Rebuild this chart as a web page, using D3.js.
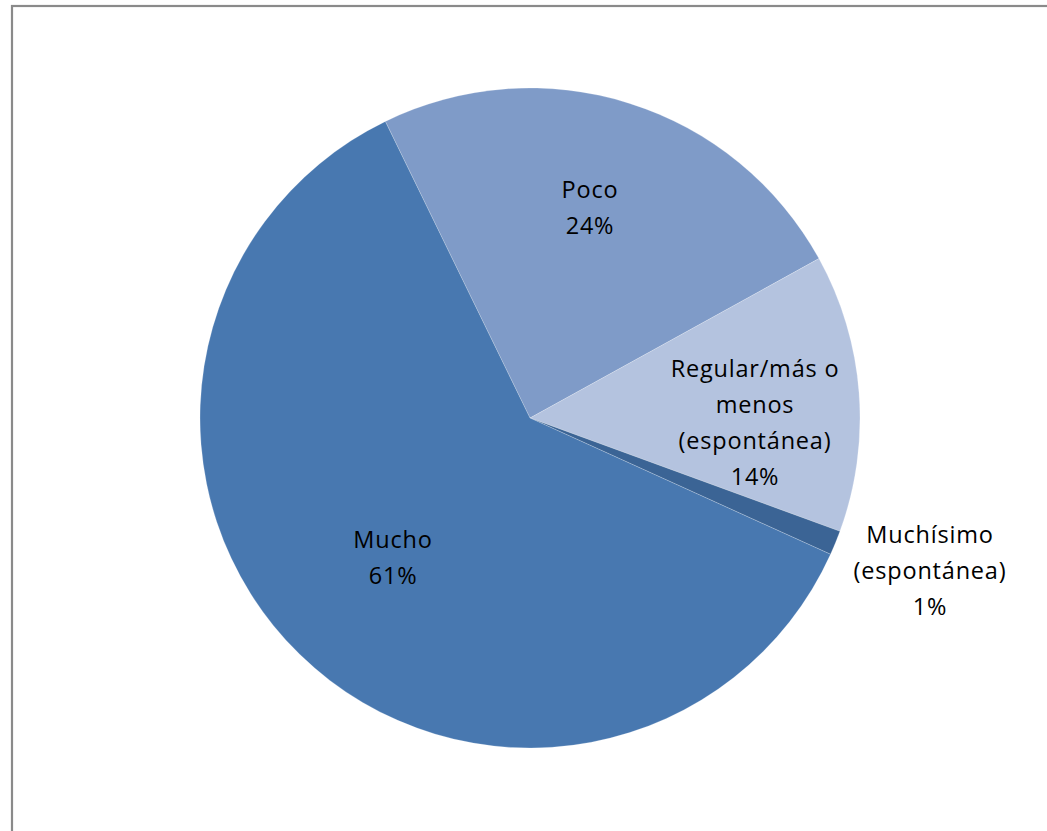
<!DOCTYPE html>
<html><head><meta charset="utf-8">
<script src="https://cdn.jsdelivr.net/npm/d3@7"></script>
<style>body{margin:0;background:#fff}svg{display:block}</style>
</head><body>
<svg id="c" width="1047" height="831"></svg>
<script>
const categories = ["Poco", "Regular/más o menos (espontánea)", "Muchísimo (espontánea)", "Mucho"];
const values = [24.2, 13.6, 1.2, 61.0];
const pctLabels = ["24%", "14%", "1%", "61%"];
const labelLines = [["Poco"], ["Regular/más o", "menos", "(espontánea)"], ["Muchísimo", "(espontánea)"], ["Mucho"]];
const colors = ["#7f9bc8", "#b4c3df", "#3b6495", "#4878b0"];

const svg = d3.select("#c");
svg.append("rect").attr("x", 12).attr("y", 6).attr("width", 1100).attr("height", 900)
  .attr("fill", "#fff").attr("stroke", "#8a8a8a").attr("stroke-width", 2.2);

const cx = 530, cy = 418, R = 330;
const deg = Math.PI / 180;
const pie = d3.pie().sort(null).value(d => d).startAngle(-26 * deg).endAngle(334 * deg);
const arcs = pie(values);
const arc = d3.arc().innerRadius(0).outerRadius(R);
const g = svg.append("g").attr("transform", `translate(${cx},${cy})`);
g.selectAll("path").data(arcs).join("path")
  .attr("d", arc).attr("fill", (d, i) => colors[i])
  .attr("stroke", "rgba(255,255,255,0.35)").attr("stroke-width", 0.6);

const labelPos = [[60, -210], [225, 5], [400, 153], [-137, 140]];
const lineH = 36;
arcs.forEach((d, i) => {
  const lines = labelLines[i].concat([pctLabels[i]]);
  const [x, y] = labelPos[i];
  const t = g.append("text").attr("text-anchor", "middle")
    .attr("font-family", "'Open Sans', 'Liberation Sans', sans-serif")
    .attr("font-size", 23.5).attr("letter-spacing", 0.8).attr("fill", "#000");
  const y0 = y - (lines.length - 1) * lineH / 2;
  lines.forEach((s, k) => {
    t.append("tspan").attr("x", x).attr("y", y0 + k * lineH).attr("dy", "0.35em").text(s);
  });
});
</script>
</body></html>
